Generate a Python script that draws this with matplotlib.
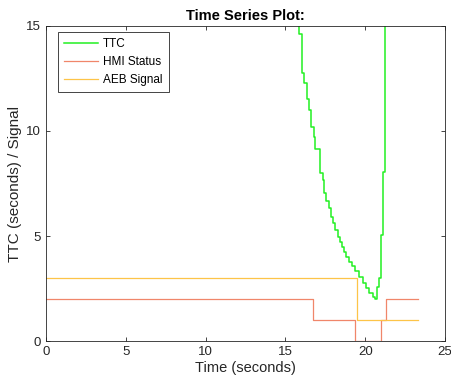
import numpy as np
import matplotlib.pyplot as plt

plt.rcParams['font.family'] = ['Liberation Sans', 'DejaVu Sans']

# TTC (step values, held until next time)
ttc_t = [0, 15.875, 16.04, 16.17, 16.33, 16.46, 16.58, 16.77, 16.875, 17.17, 17.36,
         17.44, 17.54, 17.75, 17.875, 18.0, 18.125, 18.27, 18.42, 18.54, 18.64,
         18.79, 19.0, 19.17, 19.375, 19.58, 19.83, 20.04, 20.25, 20.46, 20.625,
         20.71, 20.83, 20.98, 21.08, 21.25, 23.33]
ttc_v = [30, 14.62, 12.76, 12.27, 11.52, 11.0, 10.2, 9.73, 9.13, 7.98, 7.67,
         7.03, 6.68, 6.32, 5.92, 5.6, 5.29, 4.97, 4.73, 4.49, 4.25,
         4.02, 3.78, 3.57, 3.35, 3.03, 2.75, 2.51, 2.27, 2.11, 2.01,
         2.59, 2.99, 5.05, 8.06, 30, 30]

hmi_t = [0, 16.75, 19.35, 20.98, 21.27, 23.33]
hmi_v = [2, 1, 0, 1, 2, 2]

aeb_t = [0, 19.48, 23.33]
aeb_v = [3, 1, 1]

fig = plt.figure(figsize=(4.51, 3.8), dpi=100)
ax = fig.add_axes([0.102, 0.1026, 0.885, 0.829])

ax.plot(ttc_t, ttc_v, color='#22F022', lw=1.1, drawstyle='steps-post', label='TTC')
ax.plot(hmi_t, hmi_v, color='#F0866A', lw=0.9, drawstyle='steps-post', label='HMI Status')
ax.plot(aeb_t, aeb_v, color='#FDC448', lw=0.9, drawstyle='steps-post', label='AEB Signal')

ax.set_xlim(0, 25)
ax.set_ylim(0, 15)
ax.set_xticks([0, 5, 10, 15, 20, 25])
ax.set_yticks([0, 5, 10, 15])
ax.tick_params(direction='in', length=3, width=0.6, colors='#262626', labelsize=9.5,
               top=True, right=True, labeltop=False, labelright=False)
for s in ax.spines.values():
    s.set_color('#262626')
    s.set_linewidth(0.6)

ax.set_xlabel('Time (seconds)', fontsize=10.5, color='#262626', labelpad=2)
ax.set_ylabel('TTC (seconds) / Signal', fontsize=11, color='#262626', labelpad=3)
ax.set_title('Time Series Plot:', fontsize=10.5, fontweight='bold', pad=4)

leg = ax.legend(loc='upper left', fontsize=8.5, handlelength=2.9, fancybox=False,
                bbox_to_anchor=(0.029, 0.982), borderaxespad=0, labelspacing=0.5,
                handletextpad=0.4, borderpad=0.55, framealpha=1)
leg.get_frame().set_edgecolor('#262626')
leg.get_frame().set_linewidth(0.6)

plt.savefig('out.png')
